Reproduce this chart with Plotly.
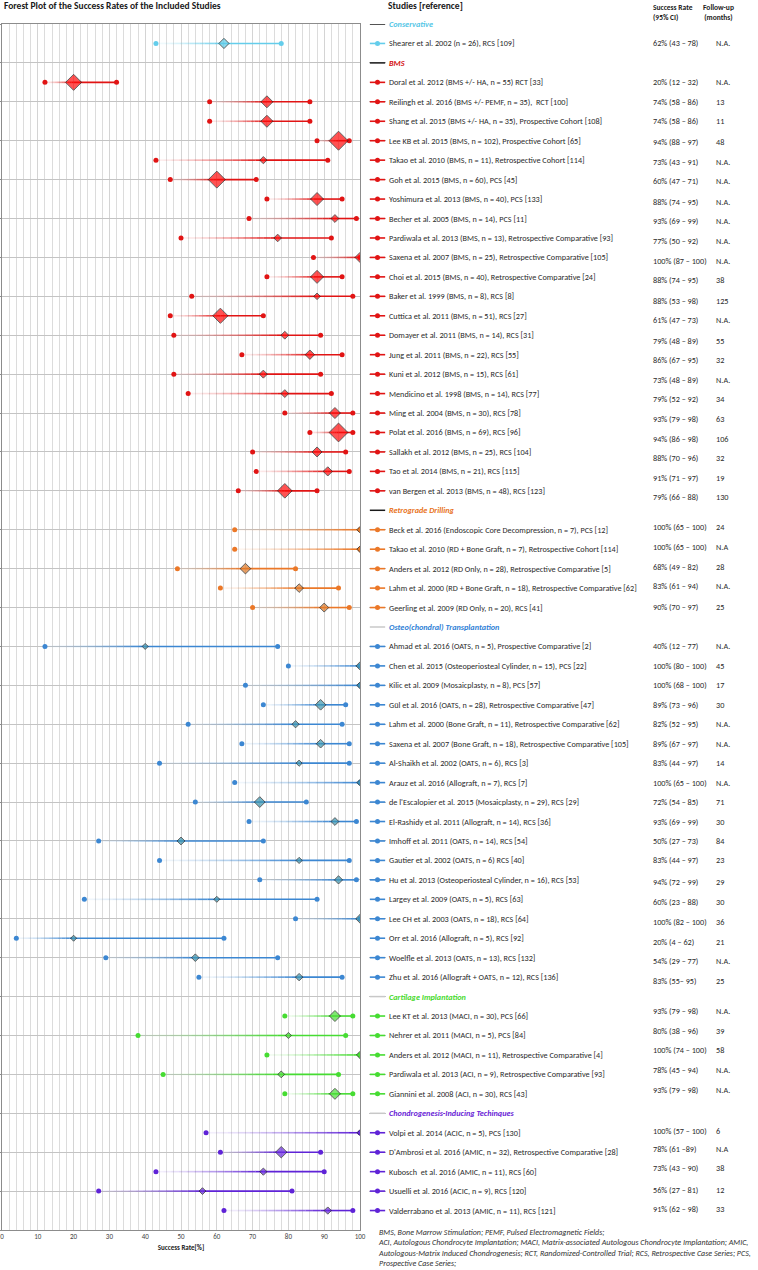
import plotly.graph_objects as go

W, H = 758, 1270

# ---------------- data ----------------
groups = ["Conservative", "BMS", "Retrograde Drilling", "Osteo(chondral) Transplantation",
          "Cartilage Implantation", "Chondrogenesis-Inducing Techinques"]

cons_names = ["Shearer et al. 2002 (n = 26), RCS [109]"]
cons_n = [26]
cons_rate = [62]
cons_lo = [43]
cons_hi = [78]
cons_ci = ["62% (43 \u2013 78)"]
cons_fu = ["N.A."]

bms_names = [
    "Doral et al. 2012 (BMS +/- HA, n = 55) RCT [33]",
    "Reilingh et al. 2016 (BMS +/- PEMF, n = 35),  RCT [100]",
    "Shang et al. 2015 (BMS +/- HA, n = 35), Prospective Cohort [108]",
    "Lee KB et al. 2015 (BMS, n = 102), Prospective Cohort [65]",
    "Takao et al. 2010 (BMS, n = 11), Retrospective Cohort [114]",
    "Goh et al. 2015 (BMS, n = 60), PCS [45]",
    "Yoshimura et al. 2013 (BMS, n = 40), PCS [133]",
    "Becher et al. 2005 (BMS, n = 14), PCS [11]",
    "Pardiwala et al. 2013 (BMS, n = 13), Retrospective Comparative [93]",
    "Saxena et al. 2007 (BMS, n = 25), Retrospective Comparative [105]",
    "Choi et al. 2015 (BMS, n = 40), Retrospective Comparative [24]",
    "Baker et al. 1999 (BMS, n = 8), RCS [8]",
    "Cuttica et al. 2011 (BMS, n = 51), RCS [27]",
    "Domayer et al. 2011 (BMS, n = 14), RCS [31]",
    "Jung et al. 2011 (BMS, n = 22), RCS [55]",
    "Kuni et al. 2012 (BMS, n = 15), RCS [61]",
    "Mendicino et al. 1998 (BMS, n = 14), RCS [77]",
    "Ming et al. 2004 (BMS, n = 30), RCS [78]",
    "Polat et al. 2016 (BMS, n = 69), RCS [96]",
    "Sallakh et al. 2012 (BMS, n = 25), RCS [104]",
    "Tao et al. 2014 (BMS, n = 21), RCS [115]",
    "van Bergen et al. 2013 (BMS, n = 48), RCS [123]",
]
bms_n = [55, 35, 35, 102, 11, 60, 40, 14, 13, 25, 40, 8, 51, 14, 22, 15, 14, 30, 69, 25, 21, 48]
bms_rate = [20, 74, 74, 94, 73, 60, 88, 93, 77, 100, 88, 88, 61, 79, 86, 73, 79, 93, 94, 88, 91, 79]
bms_lo = [12, 58, 58, 88, 43, 47, 74, 69, 50, 87, 74, 53, 47, 48, 67, 48, 52, 79, 86, 70, 71, 66]
bms_hi = [32, 86, 86, 97, 91, 71, 95, 99, 92, 100, 95, 98, 73, 89, 95, 89, 92, 98, 98, 96, 97, 88]
bms_ci = ["20% (12 \u2013 32)", "74% (58 \u2013 86)", "74% (58 \u2013 86)", "94% (88 \u2013 97)",
          "73% (43 \u2013 91)", "60% (47 \u2013 71)", "88% (74 \u2013 95)", "93% (69 \u2013 99)",
          "77% (50 \u2013 92)", "100% (87 \u2013 100)", "88% (74 \u2013 95)", "88% (53 \u2013 98)",
          "61% (47 \u2013 73)", "79% (48 \u2013 89)", "86% (67 \u2013 95)", "73% (48 \u2013 89)",
          "79% (52 \u2013 92)", "93% (79 \u2013 98)", "94% (86 \u2013 98)", "88% (70 \u2013 96)",
          "91% (71 \u2013 97)", "79% (66 \u2013 88)"]
bms_fu = ["N.A.", "13", "11", "48", "N.A.", "N.A.", "N.A.", "N.A.", "N.A.", "N.A.", "38", "125",
          "N.A.", "55", "32", "N.A.", "34", "63", "106", "32", "19", "130"]

rd_names = [
    "Beck et al. 2016 (Endoscopic Core Decompression, n = 7), PCS [12]",
    "Takao et al. 2010 (RD + Bone Graft, n = 7), Retrospective Cohort [114]",
    "Anders et al. 2012 (RD Only, n = 28), Retrospective Comparative [5]",
    "Lahm et al. 2000 (RD + Bone Graft, n = 18), Retrospective Comparative [62]",
    "Geerling et al. 2009 (RD Only, n = 20), RCS [41]",
]
rd_n = [7, 7, 28, 18, 20]
rd_rate = [100, 100, 68, 83, 90]
rd_lo = [65, 65, 49, 61, 70]
rd_hi = [100, 100, 82, 94, 97]
rd_ci = ["100% (65 \u2013 100)", "100% (65 \u2013 100)", "68% (49 \u2013 82)", "83% (61 \u2013 94)",
         "90% (70 \u2013 97)"]
rd_fu = ["24", "N.A", "28", "N.A.", "25"]

ot_names = [
    "Ahmad et al. 2016 (OATS, n = 5), Prospective Comparative [2]",
    "Chen et al. 2015 (Osteoperiosteal Cylinder, n = 15), PCS [22]",
    "Kilic et al. 2009 (Mosaicplasty, n = 8), PCS [57]",
    "G\u00fcl et al. 2016 (OATS, n = 28), Retrospective Comparative [47]",
    "Lahm et al. 2000 (Bone Graft, n = 11), Retrospective Comparative [62]",
    "Saxena et al. 2007 (Bone Graft, n = 18), Retrospective Comparative [105]",
    "Al-Shaikh et al. 2002 (OATS, n = 6), RCS [3]",
    "Arauz et al. 2016 (Allograft, n = 7), RCS [7]",
    "de l'Escalopier et al. 2015 (Mosaicplasty, n = 29), RCS [29]",
    "El-Rashidy et al. 2011 (Allograft, n = 14), RCS [36]",
    "Imhoff et al. 2011 (OATS, n = 14), RCS [54]",
    "Gautier et al. 2002 (OATS, n = 6) RCS [40]",
    "Hu et al. 2013 (Osteoperiosteal Cylinder, n = 16), RCS [53]",
    "Largey et al. 2009 (OATS, n = 5), RCS [63]",
    "Lee CH et al. 2003 (OATS, n = 18), RCS [64]",
    "Orr et al. 2016 (Allograft, n = 5), RCS [92]",
    "Woelfle et al. 2013 (OATS, n = 13), RCS [132]",
    "Zhu et al. 2016 (Allograft + OATS, n = 12), RCS [136]",
]
ot_n = [5, 15, 8, 28, 11, 18, 6, 7, 29, 14, 14, 6, 16, 5, 18, 5, 13, 12]
ot_rate = [40, 100, 100, 89, 82, 89, 83, 100, 72, 93, 50, 83, 94, 60, 100, 20, 54, 83]
ot_lo = [12, 80, 68, 73, 52, 67, 44, 65, 54, 69, 27, 44, 72, 23, 82, 4, 29, 55]
ot_hi = [77, 100, 100, 96, 95, 97, 97, 100, 85, 99, 73, 97, 99, 88, 100, 62, 77, 95]
ot_ci = ["40% (12 \u2013 77)", "100% (80 \u2013 100)", "100% (68 \u2013 100)", "89% (73 \u2013 96)",
         "82% (52 \u2013 95)", "89% (67 \u2013 97)", "83% (44 \u2013 97)", "100% (65 \u2013 100)",
         "72% (54 \u2013 85)", "93% (69 \u2013 99)", "50% (27 \u2013 73)", "83% (44 \u2013 97)",
         "94% (72 \u2013 99)", "60% (23 \u2013 88)", "100% (82 \u2013 100)", "20% (4 \u2013 62)",
         "54% (29 \u2013 77)", "83% (55\u2013 95)"]
ot_fu = ["N.A.", "45", "17", "30", "N.A.", "N.A.", "14", "N.A.", "71", "30", "84", "23", "29",
         "30", "36", "21", "N.A.", "25"]

ci_names = [
    "Lee KT et al. 2013 (MACI, n = 30), PCS [66]",
    "Nehrer et al. 2011 (MACI, n = 5), PCS [84]",
    "Anders et al. 2012 (MACI, n = 11), Retrospective Comparative [4]",
    "Pardiwala et al. 2013 (ACI, n = 9), Retrospective Comparative [93]",
    "Giannini et al. 2008 (ACI, n = 30), RCS [43]",
]
ci_n = [30, 5, 11, 9, 30]
ci_rate = [93, 80, 100, 78, 93]
ci_lo = [79, 38, 74, 45, 79]
ci_hi = [98, 96, 100, 94, 98]
ci_ci = ["93% (79 \u2013 98)", "80% (38 \u2013 96)", "100% (74 \u2013 100)", "78% (45 \u2013 94)",
         "93% (79 \u2013 98)"]
ci_fu = ["N.A.", "39", "58", "N.A.", "N.A."]

cit_names = [
    "Volpi et al. 2014 (ACIC, n = 5), PCS [130]",
    "D'Ambrosi et al. 2016 (AMIC, n = 32), Retrospective Comparative [28]",
    "Kubosch&nbsp; et al. 2016 (AMIC, n = 11), RCS [60]",
    "Usuelli et al. 2016 (ACIC, n = 9), RCS [120]",
    "Valderrabano et al. 2013 (AMIC, n = 11), RCS [121]",
]
cit_n = [5, 32, 11, 9, 11]
cit_rate = [100, 78, 73, 56, 91]
cit_lo = [57, 61, 43, 27, 62]
cit_hi = [100, 89, 90, 81, 98]
cit_ci = ["100% (57 \u2013 100)", "78% (61 \u201389)", "73% (43 \u2013 90)", "56% (27 \u2013 81)",
          "91% (62 \u2013 98)"]
cit_fu = ["6", "N.A", "38", "12", "33"]

footnote_lines = [
    "BMS, Bone Marrow Stimulation; PEMF, Pulsed Electromagnetic Fields;",
    "ACI, Autologous Chondrocyte Implantation; MACI, Matrix-associated Autologous Chondrocyte Implantation; AMIC,",
    "Autologous-Matrix Induced Chondrogenesis; RCT, Randomized-Controlled Trial; RCS, Retrospective Case Series; PCS,",
    "Prospective Case Series;",
]

# ---------------- styles ----------------
FONT = "Carlito, Lato, 'Liberation Sans', sans-serif"
TXT = 8.2
# vertical offset (px, downwards) of the rate / follow-up text boxes, per group
val_shift = [
    [0],
    [0, 0, 0, 1.3, 1.7, 1.7, 2.7, 2.3, 3, 3.3, 3.3, 4.3, 4.7, 5.7, 5.7, 5.7, 5.3, 6, 6.3, 6.3, 6.7, 6],
    [-2.3, -1.7, -1.7, -1.7, -1],
    [0, 0, 0, 0, 0, 0, 0, 0, 0, 0, 0, 0, 2, 3, 3.3, 3.7, 3.3, 3.7],
    [-5, -4.3, -4.7, -4, -4.3],
    [-1.7, -2.7, -3.7, -1, -1.7],
]
group_data = [
    (cons_names, cons_n, cons_rate, cons_lo, cons_hi, cons_ci, cons_fu),
    (bms_names, bms_n, bms_rate, bms_lo, bms_hi, bms_ci, bms_fu),
    (rd_names, rd_n, rd_rate, rd_lo, rd_hi, rd_ci, rd_fu),
    (ot_names, ot_n, ot_rate, ot_lo, ot_hi, ot_ci, ot_fu),
    (ci_names, ci_n, ci_rate, ci_lo, ci_hi, ci_ci, ci_fu),
    (cit_names, cit_n, cit_rate, cit_lo, cit_hi, cit_ci, cit_fu),
]
line_rgb = [(100, 205, 235), (225, 20, 20), (235, 120, 40), (60, 135, 210), (70, 220, 50), (95, 35, 215)]
fill_col = ["#5ccbe8", "#ff0a0a", "#e07a28", "#3c96b0", "#4ade36", "#6a2be0"]
head_col = ["#55c6e6", "#d41010", "#e8731c", "#2f7fd6", "#48d92c", "#6a24d6"]
head_dash = ["#1a1a1a", "#1a1a1a", "#1a1a1a", "#c8c8c8", "#c8c8c8", "#c8c8c8"]

fig = go.Figure()
annotations = []
PX = lambda x: x / W

row = 0
K = 14
for g, (names, ns, rates, los, his, cis, fus) in enumerate(group_data):
    r, gg, b = line_rgb[g]
    col = f"rgb({r},{gg},{b})"
    # header row
    fig.add_trace(go.Scatter(x=[0.05, 0.95], y=[row, row], xaxis="x2", yaxis="y", mode="lines",
                             line=dict(color=head_dash[g], width=1.5), hoverinfo="skip", showlegend=False))
    annotations.append(dict(x=PX(387), y=row, xref="paper", yref="y", xanchor="left", yanchor="middle",
                            text=f"<b><i>{groups[g]}</i></b>", showarrow=False,
                            font=dict(family=FONT, size=TXT, color=head_col[g])))
    row += 1
    rows = list(range(row, row + len(names)))
    row += len(names)

    # gradient lower segments
    for k in range(K):
        xs, ys = [], []
        for yy, p, lo in zip(rows, rates, los):
            if p > lo:
                a = lo + (p - lo) * k / K
                bb = lo + (p - lo) * (k + 1) / K
                xs += [a, bb, None]
                ys += [yy, yy, None]
        alpha = 0.06 + 0.94 * ((k + 1) / K) ** 1.6
        fig.add_trace(go.Scatter(x=xs, y=ys, mode="lines", line=dict(color=f"rgba({r},{gg},{b},{alpha:.3f})", width=1.6),
                                 hoverinfo="skip", showlegend=False))
    # upper segments
    xs, ys = [], []
    for yy, p, hi in zip(rows, rates, his):
        if hi > p:
            xs += [p, hi, None]
            ys += [yy, yy, None]
    fig.add_trace(go.Scatter(x=xs, y=ys, mode="lines", line=dict(color=col, width=1.6),
                             hoverinfo="skip", showlegend=False))
    # CI end dots
    fig.add_trace(go.Scatter(x=list(los) + list(his), y=rows + rows, mode="markers",
                             marker=dict(symbol="circle", size=5, color=col, line=dict(width=0)),
                             hoverinfo="skip", showlegend=False))
    # diamonds
    sizes = [min(19.0, 5 + 0.2 * n) / 1.3 for n in ns]
    fig.add_trace(go.Scatter(x=rates, y=rows, mode="markers",
                             marker=dict(symbol="diamond", size=sizes, color=fill_col[g],
                                         line=dict(color="#202020", width=1)),
                             hoverinfo="skip", showlegend=False))
    # legend glyphs
    gx, gy = [], []
    for yy in rows:
        gx += [0.05, 0.95, None]
        gy += [yy, yy, None]
    fig.add_trace(go.Scatter(x=gx, y=gy, xaxis="x2", yaxis="y", mode="lines",
                             line=dict(color=col, width=1.6), hoverinfo="skip", showlegend=False))
    fig.add_trace(go.Scatter(x=[0.5] * len(rows), y=rows, xaxis="x2", yaxis="y", mode="markers",
                             marker=dict(size=5, color=col), hoverinfo="skip", showlegend=False))
    # texts
    for yy, nm, ct, fu, sh in zip(rows, names, cis, fus, val_shift[g]):
        annotations.append(dict(x=PX(387), y=yy, xref="paper", yref="y", xanchor="left", yanchor="middle",
                                text=nm, showarrow=False, font=dict(family=FONT, size=TXT, color="#2a2a2a")))
        annotations.append(dict(x=PX(651), y=yy, xref="paper", yref="y", xanchor="left", yanchor="middle",
                                text=ct, showarrow=False, yshift=-sh,
                                font=dict(family=FONT, size=TXT, color="#2a2a2a")))
        annotations.append(dict(x=PX(714), y=yy, xref="paper", yref="y", xanchor="left", yanchor="middle",
                                text=fu, showarrow=False, yshift=-sh,
                                font=dict(family=FONT, size=TXT, color="#2a2a2a")))

NROWS = row

# headers
annotations.append(dict(x=PX(2), y=1 - 6 / H, xref="paper", yref="paper", xanchor="left", yanchor="middle",
                        text="<b>Forest Plot of the Success Rates of the Included Studies</b>", showarrow=False,
                        font=dict(family=FONT, size=9.5, color="#1a1a1a")))
annotations.append(dict(x=PX(386), y=1 - 6 / H, xref="paper", yref="paper", xanchor="left", yanchor="middle",
                        text="<b>Studies [reference]</b>", showarrow=False,
                        font=dict(family=FONT, size=9.5, color="#1a1a1a")))
annotations.append(dict(x=PX(651), y=1 - 1 / H, xref="paper", yref="paper", xanchor="left", yanchor="top",
                        text="<b>Success Rate</b><br><b>(95% CI)</b>", showarrow=False, align="left",
                        font=dict(family=FONT, size=7.5, color="#1a1a1a")))
annotations.append(dict(x=PX(701), y=1 - 1 / H, xref="paper", yref="paper", xanchor="left", yanchor="top",
                        text="<b>Follow-up</b><br><b>(months)</b>", showarrow=False, align="center",
                        font=dict(family=FONT, size=7.5, color="#1a1a1a")))
annotations.append(dict(x=PX(376), y=1 - 1225 / H, xref="paper", yref="paper", xanchor="left", yanchor="top",
                        text="<i>" + "<br>".join(footnote_lines) + "</i>", showarrow=False, align="left",
                        font=dict(family=FONT, size=8, color="#333333")))

top_px, bot_px = 24, 1230
fig.update_layout(
    width=W, height=H,
    margin=dict(l=0, r=0, t=0, b=0, autoexpand=False),
    paper_bgcolor="white", plot_bgcolor="white",
    showlegend=False,
    annotations=annotations,
    xaxis=dict(domain=[PX(2), PX(360)], range=[0, 100], tick0=0, dtick=10, automargin=False,
               showgrid=True, gridcolor="#d4d4d4", gridwidth=1,
               minor=dict(dtick=2, showgrid=True, gridcolor="#dcdcdc", gridwidth=1),
               showline=True, linecolor="#8c8c8c", linewidth=1, mirror=True,
               ticks="", zeroline=False,
               tickfont=dict(family=FONT, size=7, color="#444444"),
               title=dict(text="<b>Success Rate[%]</b>", font=dict(family=FONT, size=7, color="#222222"),
                          standoff=4)),
    yaxis=dict(domain=[1 - bot_px / H, 1 - top_px / H], range=[NROWS, 0], automargin=False,
               tick0=0, dtick=2, showticklabels=False, showgrid=True, gridcolor="#c4c4c4", gridwidth=1,
               ticks="outside", ticklen=3, tickcolor="#8c8c8c",
               showline=True, linecolor="#8c8c8c", mirror=True, zeroline=False),
    xaxis2=dict(domain=[PX(369), PX(386)], range=[0, 1], anchor="y", showgrid=False, showline=False,
                showticklabels=False, zeroline=False, ticks="", automargin=False),
)

fig.write_html("out.html", config={"displayModeBar": False},
               post_script="document.body.style.margin='0';document.body.style.overflow='hidden';")
